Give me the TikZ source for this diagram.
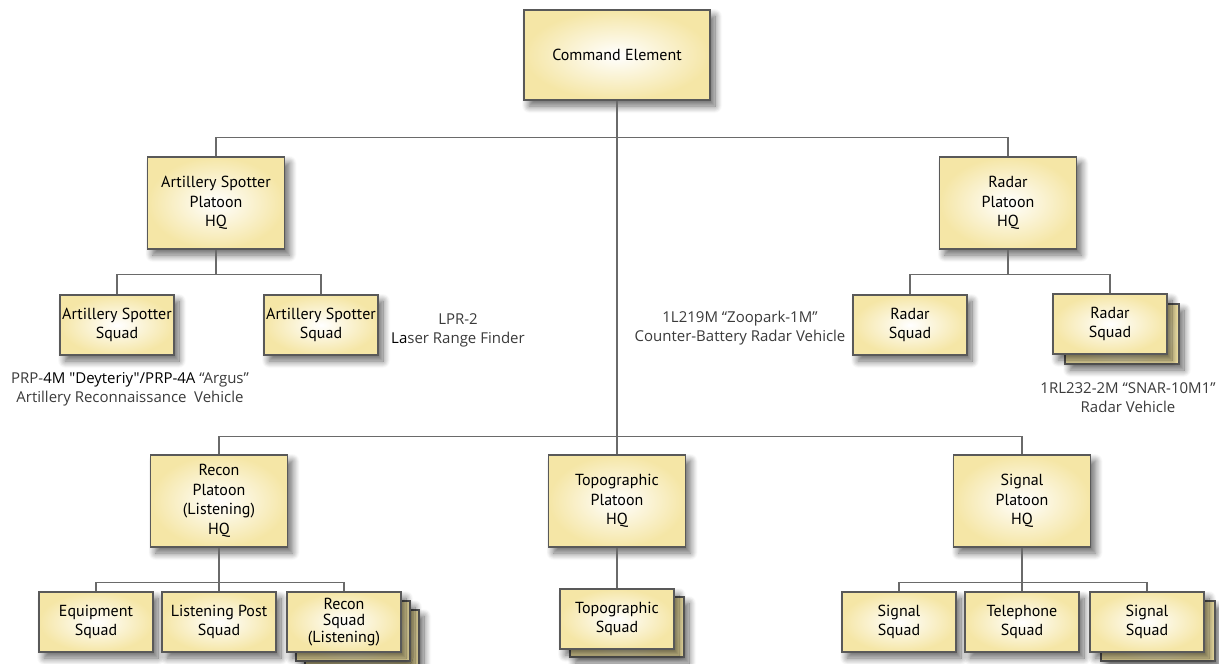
\documentclass[tikz,border=0pt]{standalone}
\usepackage{fontspec}
\setmainfont{PT Sans}
\newfontfamily\labelfont{Open Sans}
\usepackage{tikz}
\usetikzlibrary{positioning,shadows.blur}
\definecolor{boxyellow}{HTML}{F5E6A6}
\definecolor{linegray}{HTML}{6A6A6A}
\definecolor{labelgray}{HTML}{3A3A3A}

\begin{document}
\begin{tikzpicture}[
  x=1pt, y=-1pt,
  font=\fontsize{16}{19.5}\selectfont,
  unit/.style={draw=black!65, line width=1.5pt, inner color=white, outer color=boxyellow,
               blur shadow={shadow xshift=5pt, shadow yshift=-6pt, shadow blur steps=10,
                            shadow blur radius=7pt, shadow opacity=60},
               align=center, inner sep=0pt},
  hq/.style={unit, minimum width=137pt, minimum height=92pt},
  squad/.style={unit, minimum width=114pt, minimum height=60pt},
  note/.style={align=center, text=labelgray, font=\labelfont\fontsize{15}{19}\selectfont},
  link/.style={draw=linegray, line width=1.4pt},
]
  \useasboundingbox (0,0) rectangle (1219,664);

  % command and first level
  \node[unit, minimum width=186pt, minimum height=90pt] (cmd) at (617,55) {Command Element};
  \node[hq] (art) at (216,203) {Artillery Spotter\\Platoon\\HQ};
  \node[hq] (rad) at (1008,203) {Radar\\Platoon\\HQ};

  % squads under the upper platoons
  \node[squad] (as1) at (117,325) {Artillery Spotter\\Squad};
  \node[squad] (as2) at (321,325) {Artillery Spotter\\Squad};
  \node[squad] (rs1) at (910,325) {Radar\\Squad};
  \node[squad] (rs2b) at (1122,334) {};
  \node[squad] (rs2) at (1110,324) {Radar\\Squad};

  % lower platoons
  \node[hq] (rec) at (219,501) {Recon\\Platoon\\(Listening)\\HQ};
  \node[hq] (topo) at (617,501) {Topographic\\Platoon\\HQ};
  \node[hq] (sig) at (1022,501) {Signal\\Platoon\\HQ};

  % squads under the lower platoons
  \node[squad] (eq) at (96,622) {Equipment\\Squad};
  \node[squad] (lp) at (219,622) {Listening Post\\Squad};
  \node[squad] (rsqc) at (362,640) {};
  \node[squad] (rsqb) at (353,631) {};
  \node[squad, font=\fontsize{16}{16.5}\selectfont] (rsq) at (344,622) {Recon\\Squad\\(Listening)};
  \node[squad] (tsqb) at (627,627) {};
  \node[squad] (tsq) at (617,619) {Topographic\\Squad};
  \node[squad] (ss1) at (899,622) {Signal\\Squad};
  \node[squad] (tel) at (1022,622) {Telephone\\Squad};
  \node[squad] (ss2b) at (1158,631) {};
  \node[squad] (ss2) at (1147,622) {Signal\\Squad};

  % connectors
  \draw[link] (cmd.south) -- (topo.north);
  \draw[link] (art.north) -- ++(0,-19) -| (rad.north);
  \draw[link] (rec.north) -- ++(0,-18) -| (sig.north);
  \draw[link] (art.south) -- ++(0,25) coordinate (artbus);
  \draw[link] (as1.north) |- (artbus) -| (as2.north);
  \draw[link] (rad.south) -- ++(0,25) coordinate (radbus);
  \draw[link] (rs1.north) |- (radbus) -| (rs2.north);
  \draw[link] (rec.south) -- (lp.north);
  \draw[link] (rec.south) -- ++(0,35) coordinate (recbus);
  \draw[link] (eq.north) |- (recbus) -| (rsq.north);
  \draw[link] (topo.south) -- (tsq.north);
  \draw[link] (sig.south) -- (tel.north);
  \draw[link] (sig.south) -- ++(0,35) coordinate (sigbus);
  \draw[link] (ss1.north) |- (sigbus) -| (ss2.north);

  % vehicle notes
  \node[note] (lpr) at (458,330) {LPR-2\\{\color{black}La}ser Range Finder};
  \node[note] (zoo) at (740,328) {1L219M “Zoopark-1M”\\Counter-Battery Radar Vehicle};
  \node[note] (prp) at (130,389) {PRP-{\color{black}4M "Deyteriy"/PRP-4A} “Argus”\\Artillery Reconnaissance\enspace Vehicle};
  \node[note] (snar) at (1128,398) {1RL232-2M “SNAR-10M1”\\Radar Vehicle};
\end{tikzpicture}
\end{document}
